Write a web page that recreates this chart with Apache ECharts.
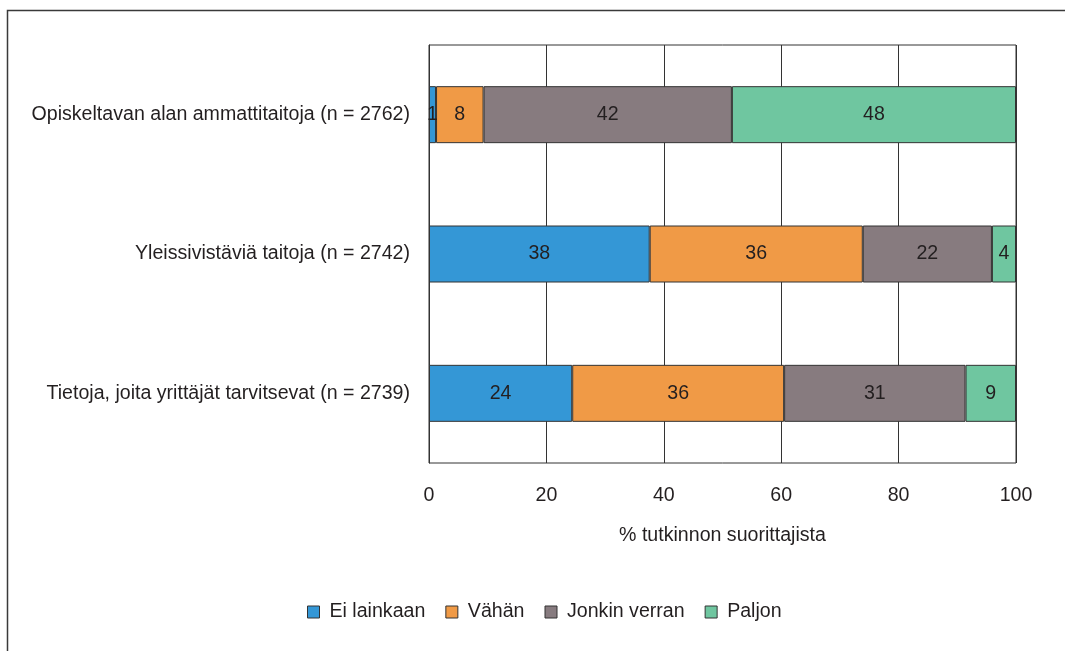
<!DOCTYPE html>
<html>
<head>
<meta charset="utf-8">
<script src="https://cdn.jsdelivr.net/npm/echarts@6/dist/echarts.min.js"></script>
<style>
  html, body { margin: 0; padding: 0; background: #fff; }
  #chart { width: 1065px; height: 651px; }
</style>
</head>
<body>
<div id="chart"></div>
<script>
const categories = [
  'Opiskeltavan alan ammattitaitoja (n = 2762)',
  'Yleissivistäviä taitoja (n = 2742)',
  'Tietoja, joita yrittäjät tarvitsevat (n = 2739)'
];
const eiLainkaan = [1.2, 37.6, 24.4];
const vahan = [8.1, 36.3, 36.1];
const jonkinVerran = [42.3, 22.0, 30.9];
const paljon = [48.4, 4.1, 8.6];
const xTicks = [0, 20, 40, 60, 80, 100];

const FONT = '"Liberation Sans", Arial, sans-serif';
const FS = 19.6;

const chart = echarts.init(document.getElementById('chart'), null, { renderer: 'canvas' });

function makeSeries(name, data, color) {
  return {
    name: name,
    type: 'bar',
    stack: 'total',
    data: data,
    barWidth: 57,
    itemStyle: { color: color, borderColor: '#333', borderWidth: 1 },
    label: {
      show: true,
      position: 'inside',
      color: '#231f20',
      fontFamily: FONT,
      fontSize: FS,
      formatter: p => Math.round(p.value)
    }
  };
}

const option = {
  animation: false,
  backgroundColor: '#fff',
  textStyle: { fontFamily: FONT },
  graphic: [{
    type: 'polyline',
    shape: { points: [[7.5, 651], [7.5, 10.5], [1065, 10.5]] },
    style: { stroke: '#3a3a3a', lineWidth: 1.5, fill: null }
  }],
  grid: {
    left: 429,
    right: 49,
    top: 45,
    bottom: 188,
    show: true,
    borderColor: '#333',
    borderWidth: 1,
    backgroundColor: 'transparent'
  },
  legend: {
    bottom: 24,
    left: 302,
    itemWidth: 12,
    itemHeight: 12,
    itemGap: 20,
    icon: 'rect',
    textStyle: { fontFamily: FONT, fontSize: FS, color: '#231f20', padding: [0, 0, 0, 5] },
    itemStyle: { borderColor: '#333', borderWidth: 1 },
    data: ['Ei lainkaan', 'Vähän', 'Jonkin verran', 'Paljon']
  },
  xAxis: {
    type: 'value',
    min: 0,
    max: 100,
    interval: 20,
    name: '% tutkinnon suorittajista',
    nameLocation: 'middle',
    nameGap: 63,
    nameTextStyle: { fontFamily: FONT, fontSize: FS, color: '#231f20' },
    axisLine: { show: false },
    axisTick: { show: false },
    axisLabel: {
      margin: 23,
      fontFamily: FONT,
      fontSize: FS,
      color: '#231f20',
      formatter: v => (xTicks.indexOf(v) >= 0 ? String(v) : '')
    },
    splitLine: { show: true, lineStyle: { color: '#333', width: 1 } }
  },
  yAxis: {
    type: 'category',
    inverse: true,
    data: categories,
    axisLine: { show: true, lineStyle: { color: '#333', width: 1 } },
    axisTick: { show: false },
    splitLine: { show: false },
    axisLabel: {
      margin: 19,
      fontFamily: FONT,
      fontSize: FS,
      color: '#231f20'
    }
  },
  series: [
    makeSeries('Ei lainkaan', eiLainkaan, '#3497d6'),
    makeSeries('Vähän', vahan, '#f09a46'),
    makeSeries('Jonkin verran', jonkinVerran, '#877b7f'),
    makeSeries('Paljon', paljon, '#6fc6a0')
  ]
};

chart.setOption(option);
</script>
</body>
</html>
